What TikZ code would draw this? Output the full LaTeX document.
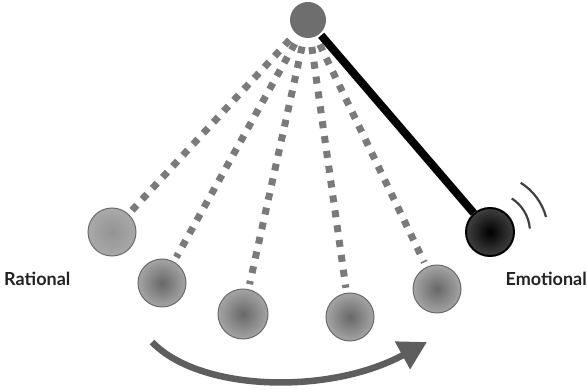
\documentclass[tikz,border=0pt]{standalone}
\usepackage{fontspec}
\setmainfont{Lato}
\usetikzlibrary{arrows.meta}

\definecolor{pivotgrey}{HTML}{6E6E6E}
\definecolor{ballcore}{HTML}{686868}
\definecolor{ballshell}{HTML}{A4A4A4}
\definecolor{ballrim}{HTML}{6A6A6A}
\definecolor{cordgrey}{HTML}{7A7A7A}
\definecolor{sweepgrey}{HTML}{5E5E5E}
\definecolor{labelgrey}{HTML}{222222}

\begin{document}
\begin{tikzpicture}[x=1pt, y=-1pt,
        ball/.style={circle, draw=ballrim, line width=1pt, minimum size=48pt, inner sep=0pt,
                     inner color=ballcore, outer color=ballshell},
        cord/.style={line width=7pt, draw=cordgrey, dash pattern=on 7pt off 8pt,
                     shorten <=9pt, shorten >=5pt},
        rod/.style={line width=8pt, black, shorten <=2pt},
        wave/.style={line width=2.2pt, draw=black!75},
        sweep/.style={-{Triangle[length=28pt, width=30pt]}, line width=6.5pt, sweepgrey},
        lbl/.style={font=\fontsize{18}{21}\selectfont\bfseries, inner sep=0pt, text=labelgrey}]
      \useasboundingbox (0,0) rectangle (587,390);

      \node[circle, fill=pivotgrey, minimum size=36pt, inner sep=0pt] (pivot) at (308,20) {};

      \node[ball, inner color=ballshell!90!black, outer color=ballshell!95!white] (b1) at (112,232) {};
      \node[ball] (b2) at (162,283) {};
      \node[ball, minimum size=50pt] (b3) at (243,314) {};
      \node[ball] (b4) at (350,317) {};
      \node[ball] (b5) at (437,289) {};
      \node[circle, draw=black, line width=2pt, minimum size=48pt, inner sep=0pt,
            inner color=black, outer color=black!75] (dark) at (490,232) {};

      \foreach \b in {b1,b2,b3,b4,b5}
        \draw[cord] (pivot) -- (\b);
      \draw[rod] (pivot) -- (dark);

      % swinging sound
      \draw[wave] ([shift={(-57:40)}]dark.center) arc[start angle=-57, end angle=-5, radius=40];
      \draw[wave] ([shift={(-58:58)}]dark.center) arc[start angle=-58, end angle=-15, radius=58];

      \node[lbl, anchor=base west] (rational) at (4,286) {Rational};
      \node[lbl, anchor=base east] (emotional) at (587,286) {Emotional};

      \coordinate (sweepstart) at (152,342);
      \coordinate (sweepend) at (427,342);
      \draw[sweep] (sweepstart) .. controls (200,392) and (330,395) .. (sweepend);
    \end{tikzpicture}
\end{document}
